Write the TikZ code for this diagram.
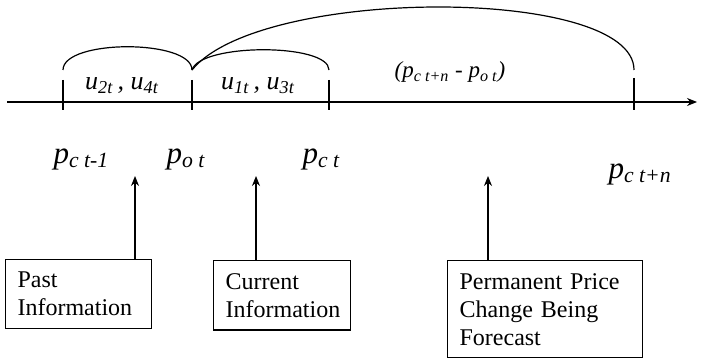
\documentclass[tikz,border=0pt]{standalone}
\usepackage{fontspec}
\setmainfont{Liberation Serif}
\usetikzlibrary{arrows.meta,positioning}

\begin{document}
\begin{tikzpicture}[x=0.5pt, y=-0.5pt, line width=0.6pt,
  info/.style={draw,anchor=north west,align=left,inner xsep=6pt,inner ysep=6.3pt,text width=#1,font=\fontsize{12}{14}\selectfont},
  plab/.style={anchor=base west,inner sep=0pt,font=\fontsize{15.5}{17}\selectfont\itshape},
  ulab/.style={anchor=base,inner sep=0pt,font=\fontsize{13}{15}\selectfont\itshape},
  arr/.style={-{Stealth[length=5pt,width=4pt]}}]
\useasboundingbox (0,0) rectangle (701,358);
% time line
\coordinate (ax0) at (7,102);
\coordinate (ax1) at (697,102);
\draw[arr,line width=0.7pt] (ax0) -- (ax1);
\foreach \n/\x/\t in {a/63/80,b/192/80,c/329/80,d/634/78} {
  \coordinate (t\n) at (\x,\t);
  \coordinate (e\n) at (\x,70);
  \draw (t\n) -- (\x,110);
}
% braces over the intervals
\draw (ea) .. controls (63,39) and (192,39) .. (eb);
\draw (eb) .. controls (200,43) and (329,43) .. (ec);
\draw (eb) .. controls (260,-14) and (634,-14) .. (ed);
\node[ulab] (u24) at (122,90) {u\textsubscript{2t}\,, u\textsubscript{4t}};
\node[ulab] (u13) at (258,90) {u\textsubscript{1t}\,, u\textsubscript{3t}};
\node[ulab,font=\fontsize{11.5}{13}\selectfont\itshape] (dif) at (450,78) {(p\textsubscript{c t+n} - p\textsubscript{o t})};
% prices
\node[plab] (pc0) at (53,163) {p\textsubscript{c t-1}};
\node[plab] (po) at (166,163) {p\textsubscript{o t}};
\node[plab] (pc1) at (302,163) {p\textsubscript{c t}};
\node[plab] (pcn) at (608,178) {p\textsubscript{c t+n}};
% information boxes
\node[info=61pt] (past) at (5,259) {Past\\Information};
\node[info=56.5pt] (cur) at (213,260) {Current\\Information};
\node[info=85.5pt] (perm) at (447,260) {Permanent Price\\Change Being\\Forecast};
\coordinate (ga) at (135,176);
\coordinate (gb) at (256,176);
\coordinate (gc) at (488,176);
\foreach \b/\g in {past/ga,cur/gb,perm/gc} \draw[arr] (\b.north -| \g) -- (\g);
\end{tikzpicture}
\end{document}
